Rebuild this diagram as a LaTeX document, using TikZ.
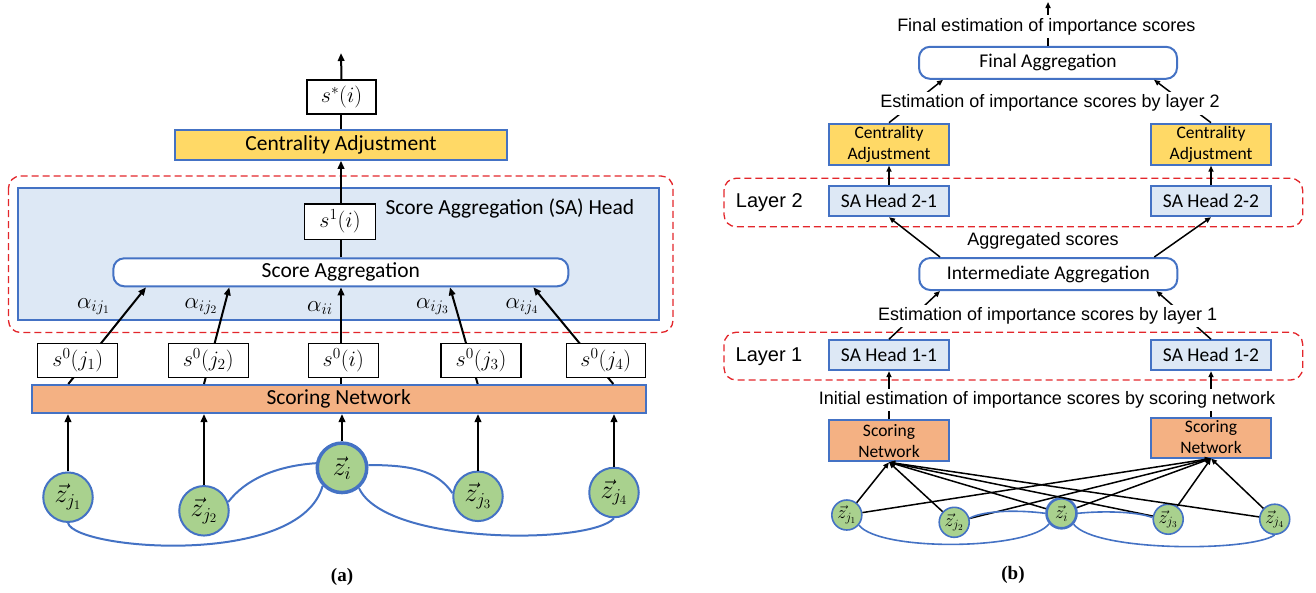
\RequirePackage{fix-cm}
\documentclass[tikz,border=0pt]{standalone}
\usepackage{amsmath}
\usepackage[no-math]{fontspec}
\setmainfont{Carlito}
\newfontfamily\arialfont{Liberation Sans}
\newfontfamily\capfont{Liberation Serif}
\usetikzlibrary{arrows.meta}

\definecolor{lineblue}{HTML}{4472C4}
\definecolor{headfill}{HTML}{DDE8F5}
\definecolor{cayellow}{HTML}{FFD966}
\definecolor{snorange}{HTML}{F4B183}
\definecolor{zgreen}{HTML}{A9D18E}
\definecolor{dashred}{HTML}{E3262B}

\newcommand{\bigsize}{\fontsize{21.5}{25}\selectfont}
\newcommand{\midsize}{\fontsize{19.5}{22}\selectfont}
\newcommand{\boxsize}{\fontsize{17.5}{21}\selectfont}
\newcommand{\lblsize}{\arialfont\fontsize{18}{21}\selectfont}
\newcommand{\mathsize}{\fontsize{22}{26}\selectfont}

\begin{document}
\begin{tikzpicture}[x=1pt,y=-1pt,
  arr/.style={line width=2pt,-{Triangle[length=8pt,width=6.5pt]}},
  barr/.style={line width=1.5pt,-{Triangle[length=6pt,width=5pt]}},
  valbox/.style={draw=black,line width=1.1pt,fill=white,inner sep=0pt,minimum height=34pt,font=\mathsize},
  bluebox/.style={draw=lineblue,line width=2pt,inner sep=0pt,align=center},
  aggbox/.style={bluebox,fill=white,rounded corners=11pt},
  zdot/.style={circle,draw=lineblue,line width=2pt,fill=zgreen,inner sep=0pt,minimum size=49.5pt,font=\fontsize{26}{30}\selectfont},
  zsmall/.style={circle,draw=lineblue,line width=1.6pt,fill=zgreen,inner sep=0pt,minimum size=30pt,font=\fontsize{18}{20}\selectfont},
  alab/.style={anchor=base,font=\fontsize{23}{26}\selectfont},
  zline/.style={draw=lineblue,line width=2pt},
  layerbox/.style={draw=dashred,line width=1.3pt,dash pattern=on 7pt off 4pt,rounded corners=12pt},
  lbl/.style={font=\lblsize,fill=white,inner sep=3pt},
  caplbl/.style={font=\capfont\bfseries\fontsize{19}{22}\selectfont}
]
\useasboundingbox (0,0) rectangle (1316,592);

% (a) one SA head
\draw[layerbox] (8.5,176) rectangle (673,332.5);
\node[bluebox,fill=headfill,minimum width=641pt,minimum height=132.5pt] (head) at (338.7,253.9) {};
\node[anchor=west,font=\bigsize] (headlbl) at (382,208) {Score Aggregation (SA) Head};
\node[bluebox,fill=cayellow,minimum width=332pt,minimum height=29.5pt,font=\bigsize] (ca) at (341,145) {Centrality Adjustment};
\node[valbox,minimum width=69pt] (sstar) at (341.5,97) {$s^*(i)$};
\node[valbox,minimum width=71pt,minimum height=35.5pt] (s1) at (340,221.7) {$s^1(i)$};
\node[aggbox,minimum width=455pt,minimum height=28pt,font=\bigsize] (agg) at (340.8,272.3) {Score Aggregation};
\node[bluebox,fill=snorange,minimum width=614pt,minimum height=28pt,font=\bigsize] (sn) at (338.7,399) {Scoring Network};

\coordinate (aout) at (341,53);
\draw[arr] (sstar.south |- sstar.north) -- (aout);
\draw[line width=2pt] (aout |- sstar.south) -- (aout |- ca.north);
\draw[arr] (aout |- s1.north) -- (aout |- ca.south);
\draw[line width=2pt] (aout |- agg.north) -- (aout |- s1.south);

\draw[arr] ([xshift=37.6pt]sn.north west) -- ([xshift=33.7pt]agg.south west);
\draw[arr] ([xshift=173.3pt]sn.north west) -- ([xshift=117pt]agg.south west);
\draw[arr] (aout |- sn.north) -- (aout |- agg.south);
\draw[arr] ([xshift=447pt]sn.north west) -- ([xshift=337.7pt]agg.south west);
\draw[arr] ([xshift=582.6pt]sn.north west) -- ([xshift=421pt]agg.south west);

\node[valbox,minimum width=80pt] (s0j1) at (77.8,360.2) {$s^0(j_1)$};
\node[valbox,minimum width=80pt] (s0j2) at (208.2,360.2) {$s^0(j_2)$};
\node[valbox,minimum width=70pt] (s0i) at (343.3,360.2) {$s^0(i)$};
\node[valbox,minimum width=80pt] (s0j3) at (481,360.2) {$s^0(j_3)$};
\node[valbox,minimum width=79pt] (s0j4) at (605.8,360.2) {$s^0(j_4)$};

\node[alab] (aj1) at (93.5,308) {$\alpha_{ij_1}$};
\node[alab] (aj2) at (201,308) {$\alpha_{ij_2}$};
\node[alab] (aii) at (320,311) {$\alpha_{ii}$};
\node[alab] (aj3) at (432.5,308) {$\alpha_{ij_3}$};
\node[alab] (aj4) at (522,308) {$\alpha_{ij_4}$};

\node[zdot] (zj1) at (68,497.2) {$\vec{z}_{j_1}$};
\node[zdot] (zj2) at (204,510.8) {$\vec{z}_{j_2}$};
\node[zdot,line width=3.5pt,minimum size=49.5pt] (zi) at (342,467.8) {$\vec{z}_i$};
\node[zdot] (zj3) at (478,496.3) {$\vec{z}_{j_3}$};
\node[zdot] (zj4) at (614,492.5) {$\vec{z}_{j_4}$};

\draw[arr] (zj1) -- (zj1 |- sn.south);
\draw[arr] (zj2) -- (zj2 |- sn.south);
\draw[arr] (zi) -- (zi |- sn.south);
\draw[arr] (zj3) -- (zj3 |- sn.south);
\draw[arr] (zj4) -- (zj4 |- sn.south);

\draw[zline] (zj1.south) .. controls (75,550) and (300,568) .. (zi.223);
\draw[zline] (zj2.20) .. controls (245,480) and (275,466) .. (zi.170);
\draw[zline] (zi.6) .. controls (410,465) and (437,470) .. (zj3.173);
\draw[zline] (zi.310) .. controls (385,545) and (590,545) .. (zj4.south);

\node[caplbl] (capa) at (342,577) {(a)};

% (b) two layers of two heads
\draw[layerbox] (724,178.3) rectangle (1302.7,226.7);
\draw[layerbox] (724,332.3) rectangle (1302.7,380);
\node[font=\arialfont\fontsize{20}{24}\selectfont] (lay2) at (769.3,202.3) {Layer 2};
\node[font=\arialfont\fontsize{20}{24}\selectfont] (lay1) at (769,356.7) {Layer 1};

\node[aggbox,minimum width=258pt,minimum height=32pt,font=\midsize] (fagg) at (1048,62.8) {Final Aggregation};
\node[bluebox,fill=cayellow,minimum width=120pt,minimum height=41pt,font=\boxsize] (ca1) at (889,144.2) {Centrality\\Adjustment};
\node[bluebox,fill=cayellow,minimum width=120pt,minimum height=41pt,font=\boxsize] (ca2) at (1211,144.2) {Centrality\\Adjustment};
\node[bluebox,fill=headfill,minimum width=120pt,minimum height=30pt,font=\midsize] (sah21) at (889,201.2) {SA Head 2-1};
\node[bluebox,fill=headfill,minimum width=120pt,minimum height=30pt,font=\midsize] (sah22) at (1211,201.2) {SA Head 2-2};
\node[aggbox,minimum width=258pt,minimum height=32pt,font=\midsize] (iagg) at (1048.3,274) {Intermediate Aggregation};
\node[bluebox,fill=headfill,minimum width=120pt,minimum height=30pt,font=\midsize] (sah11) at (889,355.2) {SA Head 1-1};
\node[bluebox,fill=headfill,minimum width=120pt,minimum height=30pt,font=\midsize] (sah12) at (1211,355.2) {SA Head 1-2};
\node[bluebox,fill=snorange,minimum width=120pt,minimum height=41pt,font=\boxsize] (snl) at (889,440.8) {Scoring\\Network};
\node[bluebox,fill=snorange,minimum width=120pt,minimum height=40pt,font=\boxsize] (snr) at (1211,437.5) {Scoring\\Network};

\node[zsmall] (zb1) at (846.8,515) {$\vec{z}_{j_1}$};
\node[zsmall] (zb2) at (954.2,522.3) {$\vec{z}_{j_2}$};
\node[zsmall,line width=2.6pt] (zbi) at (1061.5,513.3) {$\vec{z}_i$};
\node[zsmall] (zb3) at (1168.2,519.2) {$\vec{z}_{j_3}$};
\node[zsmall] (zb4) at (1274.7,519.2) {$\vec{z}_{j_4}$};

\coordinate (bout) at (1048,2);
\draw[barr] (fagg.north) -- (bout);
\draw[barr] (ca1.north) -- ([xshift=25pt]fagg.south west);
\draw[barr] (ca2.north) -- ([xshift=-24pt]fagg.south east);
\draw[barr] (sah21.north) -- (ca1.south);
\draw[barr] (sah22.north) -- (ca2.south);
\draw[barr] ([xshift=21.7pt]iagg.north west) -- (sah21.south);
\draw[barr] ([xshift=-24pt]iagg.north east) -- (sah22.south);
\draw[barr] (sah11.north) -- ([xshift=21.7pt]iagg.south west);
\draw[barr] (sah12.north) -- ([xshift=-22pt]iagg.south east);
\draw[barr] (snl.north) -- (sah11.south);
\draw[barr] (snr.north) -- (sah12.south);

\draw[barr] (zb1) -- (snl.south);
\draw[barr] (zb1) -- (snr.south);
\draw[barr] (zb2) -- (snl.south);
\draw[barr] (zb2) -- (snr.south);
\draw[barr] (zbi) -- (snl.south);
\draw[barr] (zbi) -- (snr.south);
\draw[barr] (zb3) -- (snl.south);
\draw[barr] (zb3) -- (snr.south);
\draw[barr] (zb4) -- (snl.south);
\draw[barr] (zb4) -- (snr.south);

\draw[zline,line width=1.6pt] (zb1.320) .. controls (880,552) and (1030,550) .. (zbi.220);
\draw[zline,line width=1.6pt] (zb2.15) .. controls (985,510) and (1020,510) .. (zbi.west);
\draw[zline,line width=1.6pt] (zbi.east) .. controls (1100,511) and (1135,511) .. (zb3.174);
\draw[zline,line width=1.6pt] (zbi.318) .. controls (1095,552) and (1250,552) .. (zb4.south);

\node[lbl] (finlbl) at (1046.3,26.7) {Final estimation of importance scores};
\node[lbl] (l2lbl) at (1050,103.3) {Estimation of importance scores by layer 2};
\node[lbl] (agglbl) at (1043,240.7) {Aggregated scores};
\node[lbl] (l1lbl) at (1047.7,316) {Estimation of importance scores by layer 1};
\node[lbl] (initlbl) at (1047,400) {Initial estimation of importance scores by scoring network};

\node[caplbl] (capb) at (1013,575) {(b)};
\end{tikzpicture}
\end{document}
